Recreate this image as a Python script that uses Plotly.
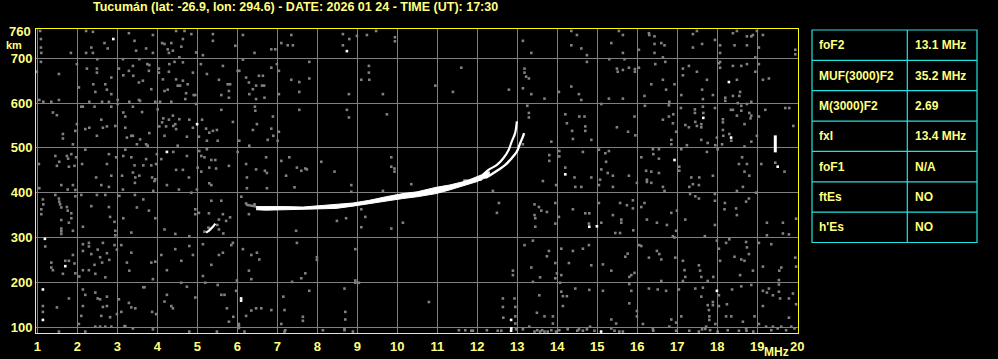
import plotly.graph_objects as go

TITLE = "Tucumán (lat: -26.9, lon: 294.6) - DATE: 2026 01 24 - TIME (UT): 17:30"

# ---- axis ticks
x_ticks = list(range(1, 21))
y_ticks = [100, 200, 300, 400, 500, 600, 700]

# ---- scaled parameters table
param_names = ["foF2", "MUF(3000)F2", "M(3000)F2", "fxI", "foF1", "ftEs", "h'Es"]
param_values = ["13.1 MHz", "35.2 MHz", "2.69", "13.4 MHz", "N/A", "NO", "NO"]

# ---- F2 trace (MHz, lower/upper virtual height km)
band_mhz = [6.47, 6.7, 7.2, 7.64, 8.0, 8.47, 8.89, 9.30, 9.72, 10.14, 10.5, 10.97, 11.30, 11.72, 12.0, 12.3]
band_lo = [362, 361, 362, 363, 364, 365, 370, 376, 382, 387, 391, 398, 406, 417, 425, 437]
band_hi = [369, 370, 369, 368, 370, 374, 377, 383, 391, 398, 402, 412, 417, 426, 436, 447]

branch_a_mhz = [12.2, 12.32, 12.53, 12.70, 12.86, 12.99, 13.07, 13.14, 13.17]
branch_a_km = [433, 439, 451, 462, 477, 492, 510, 525, 533]
branch_b_mhz = [12.14, 12.28, 12.49, 12.65, 12.78, 12.86, 12.945, 12.99]
branch_b_km = [440, 451, 462, 477, 495, 514, 533, 559]

streak_mhz = [11.65, 12.11]
streak_km = [428, 428]
lead_mhz = [6.22, 6.47]
lead_km = [373, 369]
small_mhz = [5.22, 5.30, 5.40, 5.45]
small_km = [311, 316, 325, 331]
spike_mhz = [19.45, 19.45]
spike_km = [490, 528]

# ---- isolated bright echoes (MHz, km)
bright = [(2.90, 743), (8.74, 716), (4.995, 553), (4.24, 491), (18.29, 647), (17.65, 567),
          (18.345, 523), (14.20, 441), (16.93, 473), (19.51, 458), (1.19, 297), (1.70, 236),
          (1.14, 184), (1.14, 116), (6.095, 164), (6.095, 159), (14.80, 324), (14.99, 325),
          (12.845, 116), (17.99, 181), (12.845, 92), (15.095, 90), (12.85, 97)]

# ---- background noise echoes (MHz, km)
noise_a = [(1.07,761),(1.09,743),(1.09,724),(1.10,712),(1.84,712),(2.22,761),(2.39,759),(2.35,724),(2.22,712),(2.39,712),
(2.68,734),(2.76,722),(3.29,756),(3.43,739),(3.47,717),(3.72,722),(3.89,752),(3.89,712),(4.12,734),(4.18,732),(4.35,734),
(4.26,720),(4.29,712),(4.39,717),(4.47,761),(4.55,702),(4.60,726),(4.68,761),(4.64,743),(4.85,754),(4.97,713),(5.14,707),
(5.39,754),(5.39,739),(5.95,728),(6.14,752),(6.43,712),(6.85,720),(6.95,720),(7.10,734),(7.26,729),(7.35,752),(7.39,729),
(8.64,754),(8.64,729),(8.80,743),(8.99,750),(9.24,752),(9.47,761),(9.94,747),(9.94,738),
(0.99,670),(1.09,692),(1.54,665),(1.99,687),(2.04,635),(2.24,677),(2.49,677),(2.49,668),(2.50,698),(2.40,642),(2.45,625),
(2.70,642),(2.74,630),(2.85,657),(2.85,620),(3.04,677),(3.14,698),(3.15,662),(3.29,672),(3.39,683),(3.40,661),(3.54,646),
(3.55,698),(3.64,650),(3.57,605),(3.75,687),(3.80,685),(3.79,672),(3.85,631),(3.95,603),(4.04,677),(4.04,668),(4.07,603),
(4.14,653),(4.18,627),(4.26,630),(4.29,670),(4.30,687),(4.35,603),(4.43,692),(4.47,653),(4.51,639),(4.57,639),(4.64,650),
(4.64,691),(4.72,622),(4.70,609),(4.76,642),(4.89,668),(4.91,618),(4.95,618),(5.09,687),(5.24,665),(5.54,652),(5.60,618),
(5.64,683),(5.76,642),(5.79,627),(5.79,612),(5.82,642),(6.01,672),(6.05,672),(6.14,697),(6.22,657),(6.29,646),(6.30,620),
(6.39,631),(6.47,639),(6.54,661),(6.64,661),(6.62,639),(6.67,639),(6.68,612),(6.47,609),(6.85,679),(6.99,687),(7.04,672),
(7.04,620),(7.35,652),(7.55,647),(7.55,625),(7.80,692),(7.80,655),(8.79,620),(9.10,652),(9.29,683),(9.29,668),(9.30,652),
(9.64,620),(1.05,607),(1.15,603),(1.35,603),(1.54,607),(2.30,603),(2.62,603),(2.79,603),(3.01,607),(3.30,603),(3.54,607),
(1.39,579),(1.49,573),(1.64,531),(1.64,521),(1.89,508),(1.95,538),(1.99,553),(2.10,592),(2.14,592),(2.20,542),(2.30,545),
(2.43,592),(2.49,527),(2.60,563),(2.64,545),(2.74,548),(2.85,592),(2.95,549),(3.01,598),(3.15,579),(3.20,570),(3.20,545),
(3.24,523),(3.35,527),(3.39,592),(3.39,527),(3.49,508),(3.57,519),(3.62,580),(3.72,508),(3.76,505),(3.80,533),(4.01,586),
(4.05,548),(4.12,557),(4.15,566),(4.18,527),(4.22,548),(4.29,563),(4.39,572),(4.40,549),(4.45,553),(4.47,542),(4.51,505),
(4.55,564),(4.74,525),(4.80,563),(4.89,545),(4.97,598),(5.04,525),(5.12,563),(5.22,543),(5.24,516),(5.30,534),(5.39,538),
(5.49,540),(5.51,516),(5.60,585),(5.89,558),(6.05,516),(6.30,505),(6.44,592),(6.45,583),(6.39,540),(6.49,553),(6.76,518),
(6.85,543),(6.89,570),(6.90,527),(7.04,536),(7.01,516),(7.55,585),(8.74,585),(8.79,568),(9.74,575),
(1.04,464),(1.45,482),(1.49,460),(1.55,469),(1.74,482),(1.77,476),(1.79,458),(1.85,486),(1.93,460),(1.97,479),(2.12,464),
(2.20,496),(2.47,434),(2.74,464),(2.79,486),(2.85,438),(2.97,479),(3.15,482),(3.12,438),(3.20,496),(3.35,479),(3.39,445),
(3.43,461),(3.45,434),(3.55,438),(3.65,461),(3.72,475),(3.85,461),(3.87,434),(3.95,430),(3.99,486),(3.97,464),(4.10,475),
(4.40,491),(4.47,451),(4.64,451),(4.74,482),(4.79,434),(5.01,456),(5.05,493),(5.10,482),(5.10,447),(5.18,479),(5.24,497),
(5.30,456),(5.35,473),(5.45,473),(5.47,454),(5.79,460),(6.01,491),(6.22,464),(6.24,434),(6.47,452),(6.72,479),(6.69,449),
(6.74,444),(7.10,471),(7.22,438),(7.30,479),(7.49,456),(7.60,449),(7.70,454),(7.74,452),(8.10,469),(8.43,447),(9.85,479),
(9.85,458),(9.93,454),(9.93,447)]

noise_b = [(14.35,761),(14.49,752),(14.35,729),(14.60,722),(14.74,707),(13.14,739),(13.35,712),(15.35,734),(15.54,761),
(15.64,752),(15.64,712),(15.68,698),(16.04,719),(16.29,756),(16.30,752),(16.43,749),(16.43,732),(16.43,712),(16.60,734),
(16.68,729),(16.64,702),(17.39,754),(17.39,724),(17.49,761),(17.62,732),(17.94,741),(18.07,729),(18.07,712),(18.39,756),
(18.43,729),(18.49,761),(18.74,749),(18.74,729),(18.85,749),(18.89,752),(18.99,761),(19.14,752),(18.95,702),(19.04,724),
(19.95,719),(19.95,709),
(11.60,679),(10.95,639),(11.39,625),(12.79,630),(13.18,677),(13.18,668),(13.22,659),(13.29,655),(13.14,633),(13.35,620),
(13.68,610),(14.04,625),(14.35,637),(14.54,620),(14.60,607),(14.74,692),(15.30,698),(15.29,610),(15.49,677),(15.51,670),
(15.64,674),(15.64,610),(15.79,679),(15.94,676),(15.94,670),(16.04,679),(16.18,616),(16.35,642),(16.45,687),(16.64,652),
(16.70,692),(16.72,630),(16.93,642),(16.80,603),(17.10,618),(17.14,677),(17.14,662),(17.29,683),(17.49,670),(17.62,630),
(17.64,609),(17.74,652),(17.89,618),(18.04,689),(18.07,692),(18.07,679),(18.20,612),(18.20,605),(18.39,683),(18.39,616),
(18.49,652),(18.57,625),(18.55,616),(18.60,683),(18.74,687),(18.85,603),(18.95,670),(19.04,687),(19.14,652),(19.29,655),
(13.25,594),(13.29,578),(13.29,568),(13.14,508),(13.85,514),(14.20,575),(14.24,555),(14.37,538),(14.39,520),(14.55,570),
(14.68,570),(14.70,548),(14.70,538),(14.85,518),(15.10,598),(15.49,546),(15.77,536),(15.93,570),(15.95,528),(16.19,594),
(16.64,563),(16.79,570),(16.79,595),(16.90,575),(16.89,555),(16.85,518),(16.85,508),(16.97,536),(17.09,589),(17.20,551),
(17.24,506),(17.29,546),(17.44,586),(17.44,578),(17.45,558),(17.49,549),(17.60,553),(17.60,546),(17.64,592),(17.65,578),
(17.60,518),(17.76,511),(17.94,589),(17.99,523),(18.14,564),(18.14,557),(18.14,540),(18.15,527),(18.30,531),(18.35,516),
(18.34,585),(18.39,585),(18.51,600),(18.49,572),(18.60,594),(18.60,583),(18.68,553),(18.74,598),(18.80,578),(18.83,566),
(18.85,572),(18.99,527),(19.04,570),(19.20,585),(19.70,589),(19.80,589),(19.90,549),(18.85,514),(18.68,503),(17.95,506),
(18.12,508),
(13.80,484),(13.80,471),(14.05,493),(14.05,481),(14.20,456),(14.43,434),(14.64,491),(14.85,434),(15.04,496),(15.10,452),
(15.07,429),(15.20,488),(15.22,469),(15.26,444),(15.29,493),(15.39,438),(15.79,438),(16.10,479),(16.22,449),(16.24,429),
(16.39,497),(16.40,486),(16.54,497),(16.54,476),(16.35,447),(16.54,444),(17.05,458),(17.05,449),(17.10,497),(17.35,434),
(17.55,434),(17.74,491),(17.89,438),(18.01,497),(18.62,479),(18.54,464),(18.74,464),(18.68,447),(18.80,438),(19.10,464),
(19.68,447),(19.45,467)]

noise_c = [(1.05,410),(1.60,417),(1.76,407),(1.89,417),(1.95,406),(2.60,417),(2.79,413),(3.14,407),(3.44,422),(3.93,426),
(4.24,417),(4.54,407),(4.85,400),(4.99,407),(5.30,421),(5.35,417),(6.24,410),(6.74,410),(7.43,412),(8.85,417),(8.85,402),
(9.64,404),(10.35,419),
(1.14,385),(1.15,374),(1.10,363),(1.10,352),(1.45,395),(1.54,387),(1.55,380),(1.57,374),(1.60,367),(1.74,368),(1.76,360),
(1.85,354),(1.95,392),(2.10,395),(2.35,370),(2.49,395),(2.70,395),(2.79,368),(2.82,346),(1.60,339),(1.60,320),(1.60,314),
(1.60,308),(1.79,333),(1.85,343),(1.89,315),(2.14,324),(2.93,335),(2.95,315),(2.95,305),(3.05,393),(3.15,343),(3.35,311),
(3.44,395),(3.49,367),(3.65,385),(3.79,360),(3.90,404),(3.95,343),(4.18,318),(4.45,308),(4.80,303),(4.95,363),(4.95,352),
(5.04,355),(5.29,354),(5.35,382),(5.54,340),(5.60,382),(5.64,352),(5.72,337),(5.54,318),(5.65,309),(5.82,345),(6.10,391),
(6.29,352),(6.22,376),(6.43,374),(7.47,315),(8.49,337),(8.72,343),(9.10,363),(9.10,323),(9.20,346),(9.85,320),(10.14,333),
(5.18,313),(5.28,322),(5.50,328),
(1.20,280),(1.35,244),(1.35,233),(1.39,227),(1.64,219),(1.70,248),(1.79,248),(1.89,261),(1.93,242),(1.95,220),(2.05,213),
(2.14,285),(2.14,270),(2.14,227),(2.29,288),(2.29,280),(2.29,227),(2.35,263),(2.43,239),(2.45,219),(2.51,273),(2.57,256),
(2.62,244),(2.64,288),(2.74,265),(2.70,211),(2.80,250),(2.93,283),(2.99,273),(3.10,283),(3.24,244),(3.30,226),(3.35,266),
(3.85,244),(3.89,207),(3.95,246),(4.10,261),(4.24,227),(4.45,274),(4.60,248),(4.80,281),(4.89,261),(5.14,285),(5.14,214),
(5.35,239),(5.54,261),(5.64,266),(5.85,283),(5.89,288),(5.99,204),(6.14,274),(6.29,226),(6.35,261),(6.49,266),(6.55,251),
(6.35,207),(7.49,288),(7.60,209),(7.70,220),(7.99,256),(7.99,250),(8.95,274),(8.95,204),(9.04,199),
(1.14,147),(1.14,134),(1.49,144),(1.79,164),(2.04,107),(2.14,184),(2.14,147),(2.20,172),(2.10,125),(2.45,177),(2.51,164),
(2.57,162),(2.60,125),(2.64,145),(2.74,168),(2.74,147),(2.82,122),(2.99,129),(3.04,162),(3.10,134),(3.20,102),(3.29,154),
(3.35,144),(3.45,142),(3.65,189),(3.68,189),(3.87,134),(3.97,129),(4.24,172),(4.18,157),(4.35,147),(4.39,142),(4.60,199),
(4.74,190),(4.95,166),(5.20,199),(5.51,194),(5.60,172),(5.68,172),(5.74,142),(5.79,112),(5.90,123),(5.97,181),(6.04,107),
(6.22,125),(6.35,137),(6.47,142),(6.60,142),(6.85,138),(7.15,168),(7.10,107),(7.18,138),(7.37,201),(7.64,123),(7.64,114),
(7.80,181),(8.68,186),(8.70,134),(8.70,117),(8.95,199),
(1.54,90),(2.20,90),(2.45,101),(2.57,101),(2.70,101),(2.85,101),(3.18,102),(3.39,97),(3.89,95),(4.80,90),(5.49,90),(6.04,102),
(6.04,98),(6.18,90),(7.18,90),(7.20,93),(8.14,93),(8.68,93),(8.68,97),(8.89,90)]

noise_d = [(13.64,426),(13.97,417),(14.45,413),(14.60,413),(15.04,417),(15.39,413),(15.99,422),(16.24,424),(16.35,422),
(16.64,413),(16.68,404),(17.30,413),(17.39,419),(17.54,417),(18.49,404),(18.64,413),(18.97,400),(12.39,404),
(12.54,377),(12.49,355),(13.43,374),(13.54,368),(13.60,360),(13.43,350),(13.45,343),(13.45,324),(13.74,357),(13.95,377),
(13.95,331),(14.04,346),(14.39,363),(14.70,354),(14.80,354),(14.79,331),(15.10,333),(15.04,377),(15.39,350),(15.45,310),
(15.57,377),(15.60,340),(15.57,310),(15.60,333),(15.74,372),(15.89,383),(15.89,365),(15.90,316),(16.10,368),(16.18,377),
(16.24,340),(16.49,333),(16.74,328),(16.85,355),(16.99,360),(16.97,315),(16.89,303),(16.93,300),(17.20,340),(17.32,397),
(17.45,392),(17.54,387),(17.69,303),(17.94,397),(17.94,382),(17.94,328),(18.19,377),(18.18,363),(18.47,365),(18.49,350),
(18.72,380),(18.79,387),(19.24,333),(19.24,305),(19.64,333),(19.64,309),(19.79,307),(19.97,342),
(12.89,226),(12.89,216),(13.18,283),(13.39,293),(13.35,233),(13.57,211),(13.79,270),(13.74,258),(13.95,243),(13.95,209),
(13.99,220),(14.10,275),(14.10,216),(14.29,243),(14.39,270),(14.64,275),(14.79,283),(14.85,238),(15.14,240),(15.35,226),
(15.70,257),(15.76,264),(15.80,212),(15.85,216),(15.93,221),(16.05,283),(16.10,281),(16.29,255),(16.49,270),(16.55,263),
(16.60,251),(16.60,203),(16.95,255),(17.14,248),(17.18,227),(17.20,212),(17.14,203),(17.54,238),(17.57,226),(17.60,212),
(17.76,203),(17.90,212),(17.99,293),(18.04,275),(18.07,248),(18.22,288),(18.30,296),(18.43,257),(18.60,251),(18.57,216),
(18.68,248),(18.72,290),(18.74,278),(18.79,263),(18.89,226),(19.04,288),(19.14,235),(19.35,285),(19.55,226),(19.54,205),
(19.60,233),(19.95,255),(19.97,235),
(10.79,156),(12.64,164),(12.64,145),(12.65,121),(12.93,164),(12.95,145),(12.95,124),(12.95,108),(13.39,201),(13.55,171),
(13.49,132),(13.68,124),(13.89,124),(13.89,108),(14.07,199),(14.10,179),(14.14,169),(14.24,169),(14.14,147),(14.45,186),
(14.80,183),(15.14,181),(15.35,117),(15.47,108),(15.80,196),(15.85,181),(15.80,153),(15.99,136),(15.99,124),(16.14,107),
(16.29,186),(16.51,184),(16.72,181),(16.85,117),(16.97,110),(17.04,184),(17.10,124),(17.45,186),(17.60,168),(17.64,188),
(17.76,149),(17.79,138),(17.80,116),(17.80,124),(17.89,156),(17.89,149),(18.04,171),(18.04,147),(17.95,107),(18.24,151),
(18.22,124),(18.35,124),(18.37,184),(18.60,191),(18.64,112),(18.85,194),(18.93,124),(19.04,107),(19.14,181),(19.14,147),
(19.24,177),(19.29,186),(19.39,171),(19.54,179),(19.54,195),(19.57,164),(19.79,164),(19.89,175),(19.97,151),(19.79,121),
(11.54,93),(11.70,93),(11.85,92),(11.89,92),(12.24,93),(12.51,92),(12.60,92),(12.97,95),(13.14,95),(13.30,101),(13.43,90),
(13.57,90),(13.68,90),(13.76,90),(13.85,93),(13.97,90),(14.05,93),(14.26,95),(14.54,95),(14.64,92),(14.74,95),(14.82,101),
(14.93,92),(15.35,97),(15.43,92),(15.55,90),(15.64,90),(16.39,95),(16.80,101),(16.97,92),(17.30,92),(17.54,90),(17.62,95),
(17.72,101),(17.82,93),(18.01,90),(18.26,93),(18.54,92),(18.72,97),(18.90,90),(19.22,101),(19.35,93),(19.39,101),(19.51,97),
(19.60,101),(19.72,93),(19.85,101),(19.93,97),(13.50,93),(13.62,93),(14.50,92),(16.40,92),(17.70,96),(18.73,92)]

# ---------------- figure -----------------
W, H = 998, 359
ML, MR, MT, MB = 36, 200, 29, 26
PW, PH = W - ML - MR, H - MT - MB

def xp(px):
    return (px - ML) / PW

def yp(py):
    return (H - MB - py) / PH

YEL = "#ffff00"
TXT = "#ffff80"
GRAY = "#808080"
CYAN = "#22e2e2"
FONT = "Liberation Sans"

fig = go.Figure()

noise = noise_a + noise_b + noise_c + noise_d
fig.add_trace(go.Scatter(x=[p[0] for p in noise], y=[p[1] for p in noise], mode="markers",
                         marker=dict(symbol="square", size=2.6, color=GRAY, line=dict(width=0)),
                         hoverinfo="skip"))
fig.add_trace(go.Scatter(x=lead_mhz, y=lead_km, mode="lines", line=dict(color=GRAY, width=2.5)))
fig.add_trace(go.Scatter(x=band_mhz + band_mhz[::-1], y=band_lo + band_hi[::-1], mode="lines",
                         fill="toself", fillcolor="#ffffff", line=dict(color="#ffffff", width=1)))
fig.add_trace(go.Scatter(x=branch_a_mhz, y=branch_a_km, mode="lines", line=dict(color="#ffffff", width=2.4, shape="spline")))
fig.add_trace(go.Scatter(x=branch_b_mhz, y=branch_b_km, mode="lines", line=dict(color="#ffffff", width=2.2, shape="spline")))
fig.add_trace(go.Scatter(x=streak_mhz, y=streak_km, mode="lines", line=dict(color="#ffffff", width=1.2)))
fig.add_trace(go.Scatter(x=small_mhz, y=small_km, mode="lines", line=dict(color="#ffffff", width=2.2)))
fig.add_trace(go.Scatter(x=spike_mhz, y=spike_km, mode="lines", line=dict(color="#ffffff", width=3)))
fig.add_trace(go.Scatter(x=[p[0] for p in bright], y=[p[1] for p in bright], mode="markers",
                         marker=dict(symbol="square", size=2.6, color="#ffffff", line=dict(width=0))))

x_lo = 1 + (ML - 37.3) / 40
x_hi = 1 + (ML + PW - 37.3) / 40
y_hi = 700 + (58.3 - MT) / 0.448
y_lo = 700 - (H - MB - 58.3) / 0.448

fig.update_layout(
    width=W, height=H, margin=dict(l=ML, r=MR, t=MT, b=MB, autoexpand=False),
    paper_bgcolor="#000000", plot_bgcolor="#000000", showlegend=False,
    xaxis=dict(range=[x_lo, x_hi], tickvals=x_ticks, ticktext=[str(v) for v in x_ticks],
               showgrid=True, gridcolor=GRAY, gridwidth=1, zeroline=False, automargin=False,
               showline=True, mirror=True, linecolor=YEL, linewidth=1, ticks="", ticklabelstandoff=1,
               tickfont=dict(family=FONT, size=13, color=TXT, weight="bold")),
    yaxis=dict(range=[y_lo, y_hi], tickvals=y_ticks, ticktext=[str(v) for v in y_ticks],
               showgrid=True, gridcolor=GRAY, gridwidth=1, zeroline=False, automargin=False,
               showline=True, mirror=True, linecolor=YEL, linewidth=1, ticks="",
               tickfont=dict(family=FONT, size=13, color=TXT, weight="bold")),
)

ann = []
ann.append(dict(text=TITLE, xref="paper", yref="paper", x=xp(295), y=yp(7), xanchor="center", yanchor="middle",
                showarrow=False, font=dict(family=FONT, size=12.5, color=TXT, weight="bold")))
ann.append(dict(text="760", xref="paper", yref="y", x=0, y=760, xanchor="right", yanchor="middle", xshift=-3,
                showarrow=False, font=dict(family=FONT, size=13, color=TXT, weight="bold")))
ann.append(dict(text="km", xref="paper", yref="paper", x=xp(14), y=yp(44.5), xanchor="center", yanchor="middle",
                showarrow=False, font=dict(family=FONT, size=11, color=TXT, weight="bold")))
ann.append(dict(text="MHz", xref="paper", yref="paper", x=xp(776), y=yp(352), xanchor="center", yanchor="middle",
                showarrow=False, font=dict(family=FONT, size=12, color=TXT, weight="bold")))

# table
tx0, tx1, txm = 812, 977, 907.3
ty0, ty1 = 30, 242.5
n = len(param_names)
rh = (ty1 - ty0) / n
shapes = [dict(type="rect", xref="paper", yref="paper", x0=xp(tx0), x1=xp(tx1), y0=yp(ty0), y1=yp(ty1),
               line=dict(color=CYAN, width=1.2))]
shapes.append(dict(type="line", xref="paper", yref="paper", x0=xp(txm), x1=xp(txm), y0=yp(ty0), y1=yp(ty1),
                   line=dict(color=CYAN, width=1.2)))
for i in range(1, n):
    yy = ty0 + i * rh
    shapes.append(dict(type="line", xref="paper", yref="paper", x0=xp(tx0), x1=xp(tx1), y0=yp(yy), y1=yp(yy),
                       line=dict(color=CYAN, width=1.2)))
for i, (nm, vl) in enumerate(zip(param_names, param_values)):
    yc = ty0 + (i + 0.5) * rh
    ann.append(dict(text=nm, xref="paper", yref="paper", x=xp(817), y=yp(yc), xanchor="left", yanchor="middle",
                    showarrow=False, font=dict(family=FONT, size=12, color=TXT, weight="bold")))
    ann.append(dict(text=vl, xref="paper", yref="paper", x=xp(912.5), y=yp(yc), xanchor="left", yanchor="middle",
                    showarrow=False, font=dict(family=FONT, size=12, color=TXT, weight="bold")))

fig.update_layout(annotations=ann, shapes=shapes)
fig.write_html("out.html")
